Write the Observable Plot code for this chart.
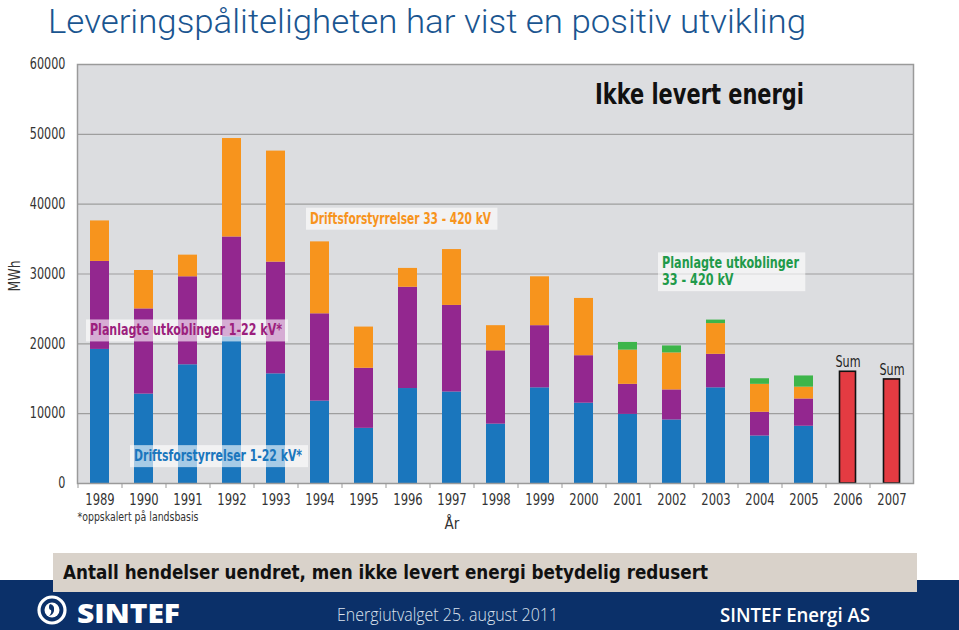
<!DOCTYPE html>
<html><head><meta charset="utf-8">
<script src="https://cdn.jsdelivr.net/npm/d3@7"></script>
<script src="https://cdn.jsdelivr.net/npm/@observablehq/plot@0.6"></script>
<style>
body{margin:0;background:#fff;}
#page{position:relative;width:959px;height:630px;overflow:hidden;background:#fff;}
#chart{position:absolute;left:0;top:0;}
.fit{position:absolute;white-space:nowrap;line-height:1;transform-origin:0 0;}
#title{left:48px;top:4px;font:300 34px Roboto,sans-serif;line-height:1;color:#1a5590;}
#band{position:absolute;left:53px;top:553px;width:864px;height:39px;background:#d9d2ca;}
#navy{position:absolute;left:0;top:580px;width:959px;height:50px;background:#0b3069;}
#bandtext{left:63px;top:561px;font:700 19px "DejaVu Sans Condensed","DejaVu Sans",sans-serif;color:#111;}
#sintef{left:77px;top:594px;font:800 27px "Open Sans",sans-serif;color:#fff;}
#event{left:337px;top:601px;font:300 19px "Open Sans",sans-serif;color:#dbe3ee;}
#company{left:720px;top:601px;font:600 20px "Open Sans",sans-serif;color:#fff;}
#logo{position:absolute;left:36px;top:594px;}
</style></head><body>
<div id="page">
  <div id="chart"></div>
  <div class="fit" id="title" data-w="758">Leveringspåliteligheten har vist en positiv utvikling</div>
  <div id="navy"></div>
  <div id="band"></div>
  <div class="fit" id="bandtext" data-w="645">Antall hendelser uendret, men ikke levert energi betydelig redusert</div>
  <svg id="logo" width="34" height="32" viewBox="0 0 34 32"><circle cx="16" cy="16" r="13" fill="none" stroke="#fff" stroke-width="3.2"/><circle cx="16" cy="16" r="7.5" fill="#fff"/><path d="M14 10 q5 1 4 7 q-1 4 -5 5 q3 -3 2 -6 q-2 0 -2 -3 q0 -2 1 -3z" fill="#0b3069"/></svg>
  <div class="fit" id="sintef" data-w="103">SINTEF</div>
  <div class="fit" id="event" data-w="221">Energiutvalget 25. august 2011</div>
  <div class="fit" id="company" data-w="150">SINTEF Energi AS</div>
</div>
<script>
// ---- data (MWh) ----
const years = ["1989","1990","1991","1992","1993","1994","1995","1996","1997","1998","1999","2000","2001","2002","2003","2004","2005","2006","2007"];
const stackYears = years.slice(0, 17);
const seriesNames = ["Driftsforstyrrelser 1-22 kV*", "Planlagte utkoblinger 1-22 kV*", "Driftsforstyrrelser 33 - 420 kV", "Planlagte utkoblinger 33 - 420 kV"];
const drift122 = [19200,12800,17000,21000,15700,11800,7900,13600,13100,8500,13700,11500,9900,9100,13700,6800,8200];
const plan122  = [12600,12200,12600,14300,16000,12500,8600,14500,12400,10500,8900,6800,4300,4300,4800,3400,3900];
const drift33  = [5800,5500,3100,14100,15900,10300,5900,2700,8000,3600,7000,8200,4900,5300,4400,4000,1700];
const plan33   = [0,0,0,0,0,0,0,0,0,0,0,0,1100,1000,500,800,1600];
const sumYears = ["2006","2007"];
const sumValues = [16000,14900];
const yTicks = [0,10000,20000,30000,40000,50000,60000];
const seriesColors = ["#1a76bd","#93278f","#f7941d","#3db54a"];

const stacked = [];
stackYears.forEach((yr, i) => {
  [drift122, plan122, drift33, plan33].forEach((arr, k) => stacked.push({year: yr, series: seriesNames[k], value: arr[i]}));
});
const sums = sumYears.map((yr, i) => ({year: yr, value: sumValues[i]}));

const narrow = "'DejaVu Sans Condensed','Liberation Sans Narrow',sans-serif";
// in-chart series labels (anchored to a year band and a value)
const labels = [
  {t: "Driftsforstyrrelser 33 - 420 kV", x: "1994", y: 37900, c: seriesColors[2], dx: -18, w: 181},
  {t: "Planlagte utkoblinger\n33 - 420 kV", x: "2002", y: 30300, c: "#1f9a4a", dx: -9, w: 137},
  {t: "Planlagte utkoblinger 1-22 kV*", x: "1989", y: 21900, c: "#9c1f7d", dx: 11, w: 192},
  {t: "Driftsforstyrrelser 1-22 kV*", x: "1990", y: 3900, c: seriesColors[0], dx: -6, w: 168}
];

const chart = Plot.plot({
  width: 959, height: 540,
  marginLeft: 77, marginRight: 46, marginTop: 64, marginBottom: 57,
  style: {fontFamily: narrow, background: "transparent", overflow: "visible"},
  x: {type: "band", domain: years, paddingInner: 0.57, paddingOuter: 0.285},
  y: {domain: [0, 60000]},
  color: {domain: seriesNames, range: seriesColors},
  marks: [
    Plot.frame({fill: "#dcdde0", stroke: null}),
    Plot.gridY(yTicks, {stroke: "#9e9e9e", strokeOpacity: 1, strokeWidth: 1.2}),
    Plot.barY(stacked, {x: "year", y: "value", fill: "series", order: null}),
    Plot.barY(sums, {x: "year", y: "value", fill: "#e43b42", stroke: "#111", strokeWidth: 1.6, insetLeft: 1.5, insetRight: 1.5}),
    Plot.text(sums, {x: "year", y: "value", text: () => "Sum", dy: -10, fontSize: 16, fill: "#222", ariaDescription: "sum"}),
    Plot.frame({stroke: "#9a9a9a", strokeWidth: 1.5}),
    Plot.axisY(yTicks, {tickSize: 0, tickPadding: 12, tickFormat: d3.format("d"), fontSize: 15, color: "#333", label: null}),
    Plot.axisX({tickSize: 0, tickPadding: 10, fontSize: 15.5, color: "#333", label: null}),
    Plot.axisX({tickSize: 5, text: null, dx: -22, label: null, stroke: "#999"}),
    Plot.text([{t: "MWh", y: 27500}], {y: "y", text: "t", frameAnchor: "left", rotate: -90, dx: -62, fontSize: 15, fill: "#333", ariaDescription: "mwh"}),
    Plot.text([{t: "År", x: "1997"}], {x: "x", text: "t", frameAnchor: "bottom", dy: 45, fontSize: 15, fill: "#333"}),
    Plot.text([{t: "*oppskalert på landsbasis"}], {text: "t", frameAnchor: "bottom-left", dy: 37, textAnchor: "start", fontSize: 13, fill: "#333", ariaDescription: "note"}),
    Plot.text([{t: "Ikke levert energi", x: "2005", y: 55600}], {x: "x", y: "y", text: "t", textAnchor: "end", fontSize: 28, fontWeight: "bold", fill: "#111", ariaDescription: "heading"}),
    Plot.text(labels, {x: "x", y: "y", text: "t", fill: "c", dx: "dx", textAnchor: "start", fontSize: 15, fontWeight: "bold", lineHeight: 1.12, ariaDescription: "boxed"})
  ]
});
document.getElementById("chart").appendChild(chart);

// horizontal squeeze of svg texts to match the condensed typeface of the original
function squeeze(textEl, target, k) {
  const tspans = textEl.querySelectorAll("tspan");
  const parts = tspans.length ? [...tspans] : [textEl];
  const widths = parts.map(p => p.getComputedTextLength());
  const f = target ? target / Math.max(...widths) : k;
  parts.forEach((p, i) => { p.setAttribute("textLength", widths[i] * f); p.setAttribute("lengthAdjust", "spacingAndGlyphs"); });
}
chart.querySelectorAll('g[aria-label="y-axis tick label"] text, g[aria-label="x-axis tick label"] text').forEach(t => squeeze(t, null, 0.83));
chart.querySelectorAll('g[aria-description="sum"] text').forEach(t => squeeze(t, 25));
chart.querySelectorAll('g[aria-description="mwh"] text').forEach(t => squeeze(t, 31));
chart.querySelectorAll('g[aria-description="note"] text').forEach(t => squeeze(t, 121));
chart.querySelectorAll('g[aria-description="heading"] text').forEach(t => squeeze(t, 209));
chart.querySelectorAll('g[aria-description="boxed"] text').forEach((t, i) => {
  squeeze(t, labels[i].w);
  const b = t.getBBox();
  const r = document.createElementNS("http://www.w3.org/2000/svg", "rect");
  r.setAttribute("x", b.x - 4); r.setAttribute("y", b.y - 2);
  r.setAttribute("width", b.width + 10); r.setAttribute("height", b.height + 4);
  r.setAttribute("fill", "rgba(255,255,255,0.62)");
  if (t.getAttribute("transform")) r.setAttribute("transform", t.getAttribute("transform"));
  t.parentNode.insertBefore(r, t);
});

// fit html texts to their measured widths
document.querySelectorAll(".fit").forEach(el => {
  const w = +el.dataset.w, r = el.getBoundingClientRect().width;
  if (r > 0) el.style.transform = `scaleX(${w / r})`;
});
</script>
</body></html>
